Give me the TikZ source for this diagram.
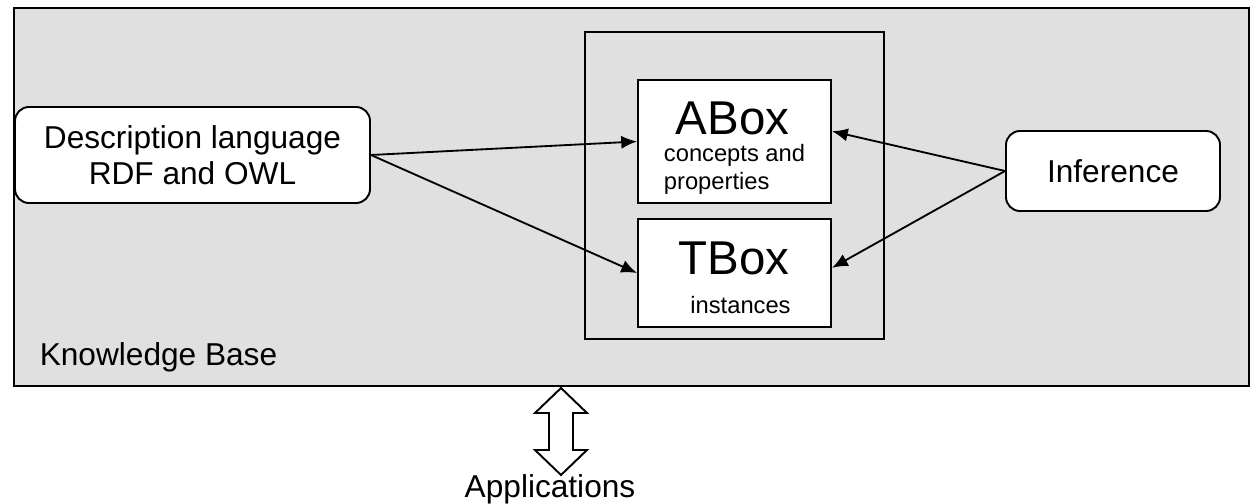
\documentclass[tikz,border=0pt]{standalone}
\usepackage{fontspec}
\setmainfont{Liberation Sans}
\usetikzlibrary{arrows.meta}

\begin{document}
\begin{tikzpicture}[->,>={Latex[length=9pt,width=7.5pt]},line width=1.05pt,
  base box/.style={draw,rectangle,line width=1.1pt,inner sep=0pt,align=center},
  round box/.style={base box,fill=white,rounded corners=0.28cm,
  font=\fontsize{18}{20.5}\selectfont},
  store box/.style={base box,fill=white,align=left,font=\fontsize{13.5}{16}\selectfont},
  big/.style={font=\fontsize{27}{27}\selectfont}]
  \useasboundingbox (0,0) rectangle (25.12,-10.08);

  % knowledge base background
  \node[base box,fill=black!12,minimum width=24.70cm,minimum height=7.56cm] (KB) at (12.63,-3.94) {};
  \node[anchor=base west,font=\fontsize{18}{20}\selectfont] (KBlabel) at (0.66,-7.30) {Knowledge Base};

  \node[round box,minimum width=7.10cm,minimum height=1.92cm] (DL) at (3.85,-3.10)
    {Description language\\RDF and OWL};
  \node[round box,minimum width=4.28cm,minimum height=1.60cm] (INF) at (22.26,-3.42) {Inference};

  \node[base box,minimum width=5.98cm,minimum height=6.14cm] (STORE) at (14.69,-3.71) {};
  \node[store box,minimum width=3.86cm,minimum height=2.46cm] (ABOX) at (14.69,-2.83)
    {\rule{0pt}{26pt}\hspace*{0.24cm}{\fontsize{27}{27}\selectfont ABox}\\[-1pt]
     concepts and\\properties};
  \node[store box,minimum width=3.86cm,minimum height=2.16cm] (TBOX) at (14.69,-5.46)
    {\rule{0pt}{24pt}{\fontsize{27}{27}\selectfont TBox}\\[6.5pt]
     \hspace*{0.24cm}instances};

  \path
    (DL.east) edge (ABOX.west)
    (DL.east) edge (TBOX.west)
    (INF.west) edge (ABOX.6)
    (INF.west) edge (TBOX.3);

  % link to the applications
  \coordinate (UP) at (11.22,-7.76);
  \coordinate (DN) at (11.22,-9.50);
  \draw[-,fill=white,line width=1.1pt] (UP) -- ++(0.52,-0.50) -- ++(-0.28,0) -- ++(0,-0.74)
    -- ++(0.28,0) -- (DN) -- ++(-0.52,0.50) -- ++(0.28,0) -- ++(0,0.74)
    -- ++(-0.28,0) -- cycle;
  \node[anchor=base,font=\fontsize{18}{20}\selectfont] (APP) at (11.0,-9.94) {Applications};
\end{tikzpicture}
\end{document}
